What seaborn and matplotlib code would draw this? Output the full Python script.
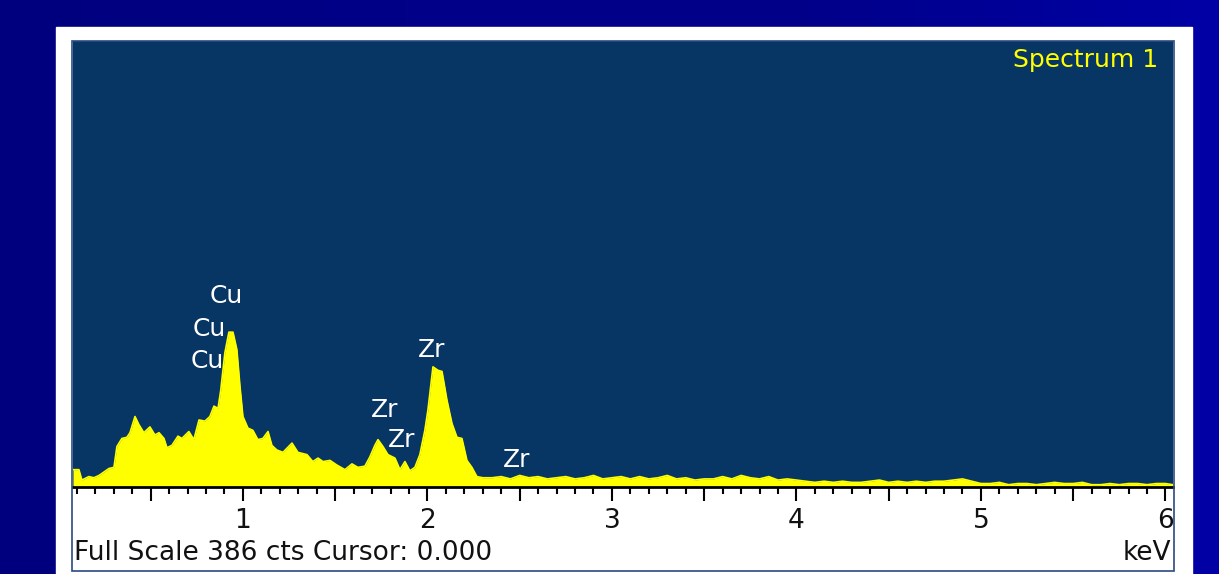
import numpy as np
import pandas as pd
import matplotlib
matplotlib.use("Agg")
import matplotlib.pyplot as plt
import seaborn as sns
from matplotlib.patches import Rectangle
from matplotlib.ticker import MultipleLocator, FuncFormatter

# EDX spectrum: energy (keV) vs counts
energy = [0.079, 0.111, 0.127, 0.165, 0.192, 0.220, 0.247, 0.274, 0.301, 0.317,
          0.344, 0.371, 0.388, 0.415, 0.436, 0.463, 0.496, 0.523, 0.545, 0.572,
          0.588, 0.615, 0.648, 0.669, 0.707, 0.734, 0.762, 0.794, 0.821, 0.843,
          0.865, 0.880, 0.902, 0.924, 0.946, 0.967, 0.984, 1.000, 1.027, 1.054,
          1.081, 1.108, 1.136, 1.157, 1.184, 1.217, 1.266, 1.298, 1.347, 1.379,
          1.407, 1.434, 1.472, 1.509, 1.553, 1.591, 1.623, 1.661, 1.688, 1.715,
          1.732, 1.759, 1.786, 1.824, 1.851, 1.878, 1.905, 1.932, 1.959, 1.986,
          2.003, 2.030, 2.057, 2.079, 2.106, 2.133, 2.160, 2.187, 2.214, 2.241,
          2.268, 2.300,
          2.35, 2.40, 2.45, 2.50, 2.55, 2.60, 2.65, 2.70, 2.75, 2.80,
          2.85, 2.90, 2.95, 3.00, 3.05, 3.10, 3.15, 3.20, 3.25, 3.30,
          3.35, 3.40, 3.45, 3.50, 3.55, 3.60, 3.65, 3.70, 3.75, 3.80,
          3.85, 3.90, 3.95, 4.00, 4.05, 4.10, 4.15, 4.20, 4.25, 4.30,
          4.35, 4.40, 4.45, 4.50, 4.55, 4.60, 4.65, 4.70, 4.75, 4.80,
          4.85, 4.90, 4.95, 5.00, 5.05, 5.10, 5.15, 5.20, 5.25, 5.30,
          5.35, 5.40, 5.45, 5.50, 5.55, 5.60, 5.65, 5.70, 5.75, 5.80,
          5.85, 5.90, 5.95, 6.00, 6.04]
counts = [15, 15, 6, 9, 8, 10, 13, 16, 17, 35,
          42, 43, 47, 61, 54, 47, 52, 45, 47, 42,
          34, 36, 44, 42, 48, 41, 58, 57, 61, 70,
          68, 84, 116, 134, 134, 119, 87, 61, 51, 49,
          41, 42, 48, 36, 32, 30, 38, 30, 28, 22,
          25, 22, 23, 19, 15, 20, 17, 18, 26, 36,
          41, 35, 28, 25, 15, 22, 14, 17, 28, 49,
          67, 104, 101, 100, 75, 55, 43, 42, 23, 17,
          9, 8,
          8, 9, 7, 10, 8, 9, 7, 8, 9, 7,
          8, 10, 7, 8, 9, 7, 9, 7, 8, 10,
          7, 8, 6, 7, 7, 9, 7, 10, 8, 7,
          9, 6, 7, 6, 5, 4, 5, 4, 5, 4,
          4, 5, 6, 4, 5, 4, 5, 4, 5, 5,
          6, 7, 5, 3, 3, 4, 2, 3, 3, 2,
          3, 4, 3, 3, 4, 2, 2, 3, 2, 3,
          3, 2, 3, 3, 2]

full_scale = 386
tick_values = [1, 2, 3, 4, 5, 6]

# element markers
peak_names = ["Cu", "Cu", "Cu", "Zr", "Zr", "Zr", "Zr"]
peak_kev = [0.908, 0.816, 0.805, 2.024, 1.770, 1.862, 2.485]
peak_cts = [165, 137, 109, 119, 67, 41, 23]

W, H = 1219, 574


def fx(px):
    return px / W


def fy(py):
    return 1 - py / H


sns.set_style("white")
plt.rcParams['font.family'] = ['DejaVu Sans']

fig = plt.figure(figsize=(W / 100, H / 100), dpi=100)

# slide background
bg = fig.add_axes([0, 0, 1, 1], zorder=-10)
grad = np.linspace(0, 1, 256)[None, :]
cmap = matplotlib.colors.LinearSegmentedColormap.from_list(
    "slide", ["#00007e", "#000088", "#00008a", "#0000a6"])
bg.imshow(grad, aspect="auto", cmap=cmap, extent=[0, 1, 0, 1])
bg.axis("off")

# white panel
fig.patches.append(Rectangle((fx(56), 0), fx(1192 - 56), fy(27),
                             transform=fig.transFigure, color="white", zorder=-5))

ax = fig.add_axes([fx(73), fy(487), fx(1173 - 73), fy(41) - fy(487)])
ax.set_facecolor("#083664")

df = pd.DataFrame({"keV": energy, "cts": counts})
sns.lineplot(data=df, x="keV", y="cts", ax=ax, color="#ffff00", lw=1.2)
ax.fill_between(df["keV"], df["cts"], color="#ffff00", lw=0)

ax.set_xlim(0.079, 6.041)
ax.set_ylim(0, full_scale)
ax.set_yticks([])
ax.set_xlabel("")
ax.set_ylabel("")

ax.xaxis.set_major_locator(MultipleLocator(0.5))
ax.xaxis.set_minor_locator(MultipleLocator(0.1))
ax.xaxis.set_major_formatter(FuncFormatter(
    lambda v, p: str(int(round(v))) if int(round(v)) in tick_values and abs(v - round(v)) < 1e-6 else ""))
ax.tick_params(axis="x", which="major", direction="out", length=10, width=1.5,
               color="black", labelsize=19, labelcolor="#111111", pad=5, bottom=True)
ax.tick_params(axis="x", which="minor", direction="out", length=5, width=1.5,
               color="black", bottom=True)
for t in ax.xaxis.get_major_ticks():
    v = t.get_loc()
    if abs(v - round(v)) > 1e-6:
        t.tick1line.set_markersize(7)

for s in ["top", "left", "right"]:
    ax.spines[s].set_visible(False)
ax.spines["bottom"].set_color("black")
ax.spines["bottom"].set_linewidth(2)

for name, xk, yc in zip(peak_names, peak_kev, peak_cts):
    ax.text(xk, yc, name, color="white", fontsize=18, ha="center", va="center")

# frame around the spectrum control
fig.patches.append(Rectangle((fx(72), fy(571)), fx(1174 - 72), fy(41) - fy(571),
                             transform=fig.transFigure, fill=False,
                             edgecolor="#2a4a80", lw=1.2, zorder=10))

fig.text(fx(1158), fy(60), "Spectrum 1", color="#ffff00", fontsize=18,
         ha="right", va="center")
fig.text(fx(74), fy(553), "Full Scale %d cts Cursor: 0.000" % full_scale,
         color="#111111", fontsize=19, ha="left", va="center")
fig.text(fx(1171), fy(553), "keV", color="#111111", fontsize=19,
         ha="right", va="center")

fig.savefig("out.png", dpi=100)
